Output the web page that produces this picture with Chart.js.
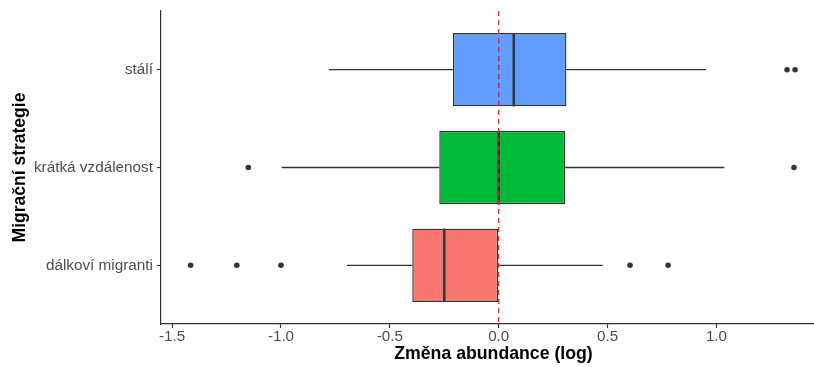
<!DOCTYPE html>
<html>
<head>
<meta charset="utf-8">
<script src="https://cdn.jsdelivr.net/npm/chart.js@4/dist/chart.umd.min.js"></script>
<style>
  html, body { margin: 0; padding: 0; background: #ffffff; overflow: hidden; }
  #wrap { width: 814px; height: 367px; overflow: hidden; }
</style>
</head>
<body>
<div id="wrap"><canvas id="chart" width="826" height="367"></canvas></div>
<script>
// Migration strategy groups, bottom to top
const categories = ['dálkoví migranti', 'krátká vzdálenost', 'stálí'];
const fillColors = ['#F8766D', '#00BA38', '#619CFF'];

// Box-plot summaries of the log change in abundance
const whiskerLow = [-0.697, -0.997, -0.780];
const q1 = [-0.397, -0.273, -0.210];
const median = [-0.250, 0.000, 0.069];
const q3 = [0.000, 0.305, 0.311];
const whiskerHigh = [0.478, 1.036, 0.952];

// Outlying observations per group
const outliers = [
  [-1.415, -1.203, -1.000, 0.603, 0.778],
  [-1.150, 1.356],
  [1.324, 1.361]
];

const xTicks = [-1.5, -1.0, -0.5, 0.0, 0.5, 1.0];

const ink = '#333333';
const tickText = '#4D4D4D';
const family = '"Liberation Sans", Arial, Helvetica, sans-serif';

const boxData = categories.map((c, i) => ({ x: [q1[i], q3[i]], y: i + 1 }));
const outlierData = [];
outliers.forEach((vals, i) => vals.forEach(v => outlierData.push({ x: v, y: i + 1 })));

// Whiskers, medians and the zero reference line
const boxExtras = {
  id: 'boxExtras',
  beforeDatasetsDraw(chart) {
    const { ctx, scales: { x, y } } = chart;
    ctx.save();
    ctx.strokeStyle = ink;
    ctx.lineWidth = 1.3;
    categories.forEach((c, i) => {
      const py = y.getPixelForValue(i + 1);
      ctx.beginPath();
      ctx.moveTo(x.getPixelForValue(whiskerLow[i]), py);
      ctx.lineTo(x.getPixelForValue(q1[i]), py);
      ctx.moveTo(x.getPixelForValue(q3[i]), py);
      ctx.lineTo(x.getPixelForValue(whiskerHigh[i]), py);
      ctx.stroke();
    });
    ctx.restore();
  },
  afterDatasetsDraw(chart) {
    const { ctx, chartArea, scales: { x } } = chart;
    const bars = chart.getDatasetMeta(0).data;
    ctx.save();
    ctx.strokeStyle = ink;
    ctx.lineWidth = 2.4;
    bars.forEach((bar, i) => {
      const px = x.getPixelForValue(median[i]);
      ctx.beginPath();
      ctx.moveTo(px, bar.y - bar.height / 2);
      ctx.lineTo(px, bar.y + bar.height / 2);
      ctx.stroke();
    });
    const zx = x.getPixelForValue(0);
    ctx.strokeStyle = '#FF1A1A';
    ctx.lineWidth = 1.3;
    ctx.setLineDash([5, 4]);
    ctx.beginPath();
    ctx.moveTo(zx, chartArea.top);
    ctx.lineTo(zx, chartArea.bottom);
    ctx.stroke();
    ctx.restore();
  }
};

new Chart(document.getElementById('chart'), {
  type: 'bar',
  data: {
    datasets: [
      {
        type: 'bar',
        indexAxis: 'y',
        data: boxData,
        backgroundColor: fillColors,
        borderColor: ink,
        borderWidth: 1.4,
        borderSkipped: false,
        barPercentage: 0.75,
        categoryPercentage: 1.0,
        order: 2
      },
      {
        type: 'scatter',
        data: outlierData,
        pointRadius: 2.8,
        pointHoverRadius: 2.8,
        pointBackgroundColor: ink,
        pointBorderWidth: 0,
        showLine: false,
        order: 1
      }
    ]
  },
  plugins: [boxExtras],
  options: {
    responsive: false,
    animation: false,
    layout: { autoPadding: false, padding: { top: 11, right: 0, bottom: 0, left: 0 } },
    plugins: { legend: { display: false }, tooltip: { enabled: false } },
    scales: {
      x: {
        type: 'linear',
        position: 'bottom',
        min: -1.551,
        max: 1.503,
        offset: false,
        afterBuildTicks: s => { s.ticks = xTicks.map(v => ({ value: v })); },
        afterFit: s => { s.height = 43; s.paddingLeft = 0; s.paddingRight = 0; },
        grid: { display: true, drawOnChartArea: false, drawTicks: true, tickLength: 4, tickWidth: 1.2, tickColor: ink, offset: false },
        border: { display: true, color: ink, width: 1.2 },
        ticks: {
          color: tickText,
          padding: 0,
          maxRotation: 0,
          autoSkip: false,
          font: { family, size: 15.2 },
          callback: v => v.toFixed(1)
        },
        title: {
          display: true,
          text: 'Změna abundance (log)',
          color: '#000000',
          padding: { top: 0, bottom: 2 },
          font: { family, size: 17.7, weight: 'bold' }
        }
      },
      y: {
        type: 'linear',
        position: 'left',
        min: 0.4,
        max: 3.6,
        offset: false,
        afterBuildTicks: s => { s.ticks = categories.map((c, i) => ({ value: i + 1 })); },
        afterFit: s => { s.width = 161; s.paddingTop = 0; s.paddingBottom = 0; },
        grid: { display: true, drawOnChartArea: false, drawTicks: true, tickLength: 4, tickWidth: 1.2, tickColor: ink, offset: false },
        border: { display: true, color: ink, width: 1.2 },
        ticks: {
          color: tickText,
          padding: 4,
          autoSkip: false,
          font: { family, size: 15.3 },
          callback: v => categories[v - 1]
        },
        title: {
          display: true,
          text: 'Migrační strategie',
          color: '#000000',
          padding: { top: 10, bottom: 0 },
          font: { family, size: 17.5, weight: 'bold' }
        }
      }
    }
  }
});
</script>
</body>
</html>
